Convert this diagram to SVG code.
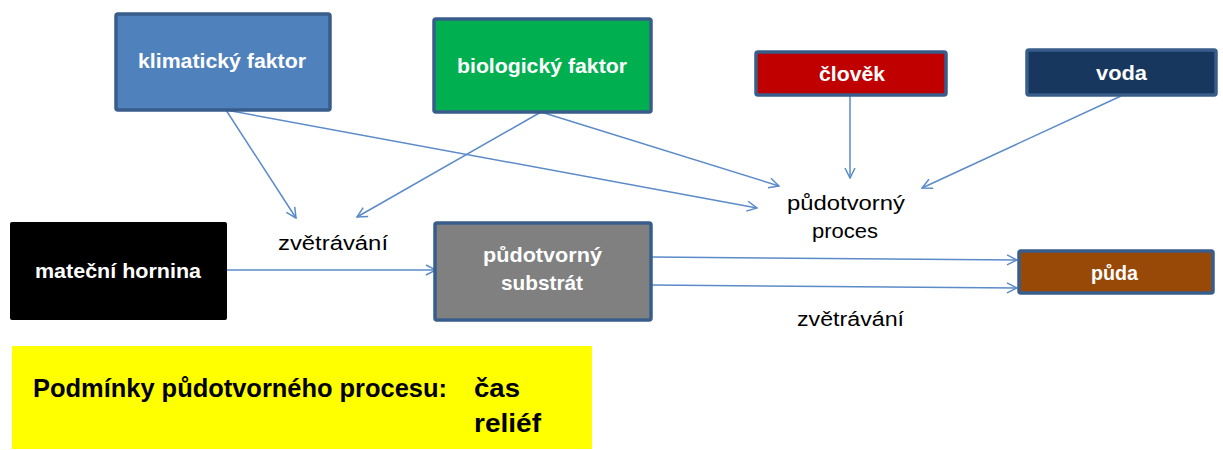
<svg xmlns="http://www.w3.org/2000/svg" width="1223" height="450" viewBox="0 0 1223 450">
<defs>
<style>
.box{stroke:#385d8a;stroke-width:3.5}
.wt{fill:#ffffff;font-family:"Liberation Sans",Arial,sans-serif;font-weight:bold;font-size:20px}
.bt{fill:#000000;font-family:"Liberation Sans",Arial,sans-serif;font-size:20px}
.yt{fill:#000000;font-family:"Liberation Sans",Arial,sans-serif;font-weight:bold;font-size:25px}
.cn{stroke:#5b8bc8;stroke-width:1.5;fill:none;marker-end:url(#ah)}
</style>
<marker id="ah" viewBox="0 0 12 12" refX="11" refY="6" markerWidth="12" markerHeight="12" markerUnits="userSpaceOnUse" orient="auto">
<path d="M1,1 L11,6 L1,11" fill="none" stroke="#5b8bc8" stroke-width="1.5"/>
</marker>
</defs>
<rect width="1223" height="450" fill="#ffffff"/>
<g id="connectors">
<line class="cn" x1="226" y1="110" x2="296" y2="218"/>
<line class="cn" x1="226" y1="110" x2="757" y2="208"/>
<line class="cn" x1="541" y1="112" x2="357" y2="217"/>
<line class="cn" x1="541" y1="112" x2="779" y2="186"/>
<line class="cn" x1="850" y1="96" x2="850" y2="178"/>
<line class="cn" x1="1121" y1="96" x2="922" y2="188"/>
<line class="cn" x1="227" y1="270" x2="436" y2="270"/>
<line class="cn" x1="652" y1="257" x2="1017" y2="260"/>
<line class="cn" x1="652" y1="285" x2="1017" y2="288"/>
</g>
<g id="klimaticky">
<rect class="box" x="116" y="14" width="214" height="96" rx="2" fill="#4f81bd"/>
<text class="wt" x="138" y="68" textLength="168" lengthAdjust="spacingAndGlyphs">klimatický faktor</text>
</g>
<g id="biologicky">
<rect class="box" x="434" y="19" width="217" height="93" rx="2" fill="#00b050"/>
<text class="wt" x="457" y="73" textLength="170" lengthAdjust="spacingAndGlyphs">biologický faktor</text>
</g>
<g id="clovek">
<rect class="box" x="756" y="52" width="190" height="43" rx="2" fill="#c00000"/>
<text class="wt" x="819" y="81" textLength="66" lengthAdjust="spacingAndGlyphs">člověk</text>
</g>
<g id="voda">
<rect class="box" x="1027" y="50" width="189" height="45" rx="2" fill="#17375e"/>
<text class="wt" x="1096" y="80" textLength="51" lengthAdjust="spacingAndGlyphs">voda</text>
</g>
<g id="materska">
<rect x="10" y="222" width="217" height="98" rx="2" fill="#000000"/>
<text class="wt" x="35" y="278" textLength="166" lengthAdjust="spacingAndGlyphs">mateční hornina</text>
</g>
<g id="substrat">
<rect class="box" x="435" y="223" width="216" height="97" rx="2" fill="#808080"/>
<text class="wt" x="483" y="262" textLength="119" lengthAdjust="spacingAndGlyphs">půdotvorný</text>
<text class="wt" x="501" y="290" textLength="82" lengthAdjust="spacingAndGlyphs">substrát</text>
</g>
<g id="puda">
<rect class="box" x="1019" y="251" width="194" height="42" rx="2" fill="#984807"/>
<text class="wt" x="1091" y="280" textLength="47" lengthAdjust="spacingAndGlyphs">půda</text>
</g>
<g id="lbl-zvetravani1">
<text class="bt" x="278" y="250" textLength="110" lengthAdjust="spacingAndGlyphs">zvětrávání</text>
</g>
<g id="lbl-proces">
<text class="bt" x="787" y="210" textLength="118" lengthAdjust="spacingAndGlyphs">půdotvorný</text>
<text class="bt" x="812" y="238" textLength="66" lengthAdjust="spacingAndGlyphs">proces</text>
</g>
<g id="lbl-zvetravani2">
<text class="bt" x="797" y="326" textLength="107" lengthAdjust="spacingAndGlyphs">zvětrávání</text>
</g>
<g id="podminky">
<rect x="12" y="346" width="580" height="103" fill="#ffff00"/>
<text class="yt" x="33" y="397" textLength="414" lengthAdjust="spacingAndGlyphs">Podmínky půdotvorného procesu:</text>
<text class="yt" x="474" y="397" textLength="46" lengthAdjust="spacingAndGlyphs">čas</text>
<text class="yt" x="474" y="432" textLength="67" lengthAdjust="spacingAndGlyphs">reliéf</text>
</g>
</svg>
